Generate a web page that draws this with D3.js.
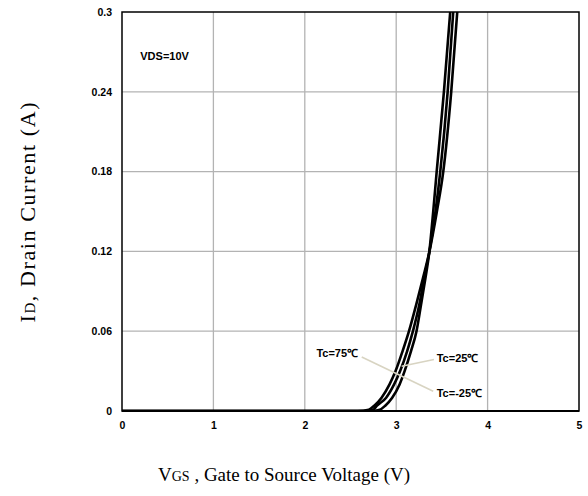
<!DOCTYPE html>
<html>
<head>
<meta charset="utf-8">
<script src="https://cdn.jsdelivr.net/npm/d3@7"></script>
<style>
  body { margin: 0; background: #fff; }
  .tick text { font: bold 10.5px "Liberation Sans", Arial, sans-serif; fill: #000; }
</style>
</head>
<body>
<svg width="588" height="496"></svg>
<script>
// drain current levels (A), shared by all three curves
var currentA = [0, 0, 0.001, 0.004, 0.01, 0.02, 0.03, 0.045, 0.06, 0.08, 0.1, 0.1194, 0.15, 0.18, 0.24, 0.30];
// gate voltage (V) at those current levels, one list per case temperature
var vgs75 = [0, 2.58, 2.7, 2.76, 2.84, 2.927, 2.993, 3.07, 3.14, 3.219, 3.293, 3.362, 3.445, 3.515, 3.602, 3.668];
var vgs25 = [0, 2.65, 2.75, 2.79, 2.89, 2.977, 3.043, 3.12, 3.183, 3.253, 3.306, 3.362, 3.43, 3.482, 3.563, 3.624];
var vgsM25 = [0, 2.72, 2.82, 2.88, 2.956, 3.037, 3.092, 3.162, 3.222, 3.272, 3.32, 3.362, 3.405, 3.443, 3.522, 3.591];

var xTicks = [0, 1, 2, 3, 4, 5];
var yTicks = [0, 0.06, 0.12, 0.18, 0.24, 0.3];

var svg = d3.select("svg"),
    margin = {top: 12, right: 9, bottom: 85, left: 122},
    width = svg.attr("width") - margin.left - margin.right,
    height = svg.attr("height") - margin.top - margin.bottom,
    g = svg.append("g").attr("transform", "translate(" + margin.left + "," + margin.top + ")");

var x = d3.scaleLinear().domain([0, 5]).range([0, width]),
    y = d3.scaleLinear().domain([0, 0.3]).range([height, 0]);

// grid
g.append("g").selectAll("line").data(xTicks.slice(1, -1)).enter().append("line")
    .attr("x1", function(d) { return x(d); }).attr("x2", function(d) { return x(d); })
    .attr("y1", 0).attr("y2", height)
    .attr("stroke", "#b3b3b3").attr("stroke-width", 1.3);
g.append("g").selectAll("line").data(yTicks.slice(1, -1)).enter().append("line")
    .attr("y1", function(d) { return y(d); }).attr("y2", function(d) { return y(d); })
    .attr("x1", 0).attr("x2", width)
    .attr("stroke", "#b3b3b3").attr("stroke-width", 1.3);

// axes, labels only
var xAxis = g.append("g")
    .attr("transform", "translate(0," + height + ")")
    .call(d3.axisBottom(x).tickValues(xTicks).tickSize(0).tickPadding(11).tickFormat(d3.format("d")));
xAxis.select(".domain").remove();

var yAxis = g.append("g")
    .call(d3.axisLeft(y).tickValues(yTicks).tickSize(0).tickPadding(10)
        .tickFormat(function(d) { return +d.toFixed(2); }));
yAxis.select(".domain").remove();

// curves
var series = [
    {id: "75", v: vgs75},
    {id: "25", v: vgs25},
    {id: "-25", v: vgsM25}
];

g.append("clipPath").attr("id", "clip")
    .append("rect").attr("width", width).attr("height", height);

var line = d3.line()
    .curve(d3.curveMonotoneX)
    .x(function(d) { return x(d[0]); })
    .y(function(d) { return y(d[1]); });

g.append("g").attr("clip-path", "url(#clip)")
    .selectAll("path").data(series).enter().append("path")
    .attr("d", function(s) { return line(s.v.map(function(v, i) { return [v, currentA[i]]; })); })
    .attr("fill", "none")
    .attr("stroke", "#000")
    .attr("stroke-width", 2.6);

// frame
g.append("rect")
    .attr("width", width).attr("height", height)
    .attr("fill", "none").attr("stroke", "#000").attr("stroke-width", 1.5);
g.append("line")
    .attr("x1", 0).attr("x2", width).attr("y1", height).attr("y2", height)
    .attr("stroke", "#000").attr("stroke-width", 2.2);

// annotations
var leaders = [
    [[2.623, 0.0406], [3.405, 0.0148]],
    [[3.413, 0.0387], [3.06, 0.0336]]
];
g.selectAll(".leader").data(leaders).enter().append("line")
    .attr("class", "leader")
    .attr("x1", function(d) { return x(d[0][0]); }).attr("y1", function(d) { return y(d[0][1]); })
    .attr("x2", function(d) { return x(d[1][0]); }).attr("y2", function(d) { return y(d[1][1]); })
    .attr("stroke", "#d8d4c2").attr("stroke-width", 1.6);

var notes = [
    {t: "Tc=75\u2103", v: 2.583, i: 0.0408, anchor: "end"},
    {t: "Tc=25\u2103", v: 3.443, i: 0.0366, anchor: "start"},
    {t: "Tc=-25\u2103", v: 3.443, i: 0.0103, anchor: "start"},
    {t: "VDS=10V", v: 0.2, i: 0.264, anchor: "start"}
];
g.selectAll(".note").data(notes).enter().append("text")
    .attr("class", "note")
    .attr("x", function(d) { return x(d.v); })
    .attr("y", function(d) { return y(d.i); })
    .attr("text-anchor", function(d) { return d.anchor; })
    .style("font", "bold 11px 'Liberation Sans', Arial, sans-serif")
    .text(function(d) { return d.t; });

// axis titles
var yt = svg.append("text")
    .attr("transform", "translate(35,212.5) rotate(-90)")
    .attr("text-anchor", "middle")
    .attr("textLength", 220)
    .attr("lengthAdjust", "spacing")
    .style("font", "22px 'Liberation Serif', 'Times New Roman', serif");
yt.append("tspan").text("I");
yt.append("tspan").style("font-size", "15px").text("D");
yt.append("tspan").text(", Drain Current (A)");

var xt = svg.append("text")
    .attr("x", 158).attr("y", 481)
    .style("font", "19px 'Liberation Serif', 'Times New Roman', serif");
xt.append("tspan").text("V");
xt.append("tspan").style("font-size", "14px").text("GS");
xt.append("tspan").text(" , Gate to Source Voltage (V)");
</script>
</body>
</html>
